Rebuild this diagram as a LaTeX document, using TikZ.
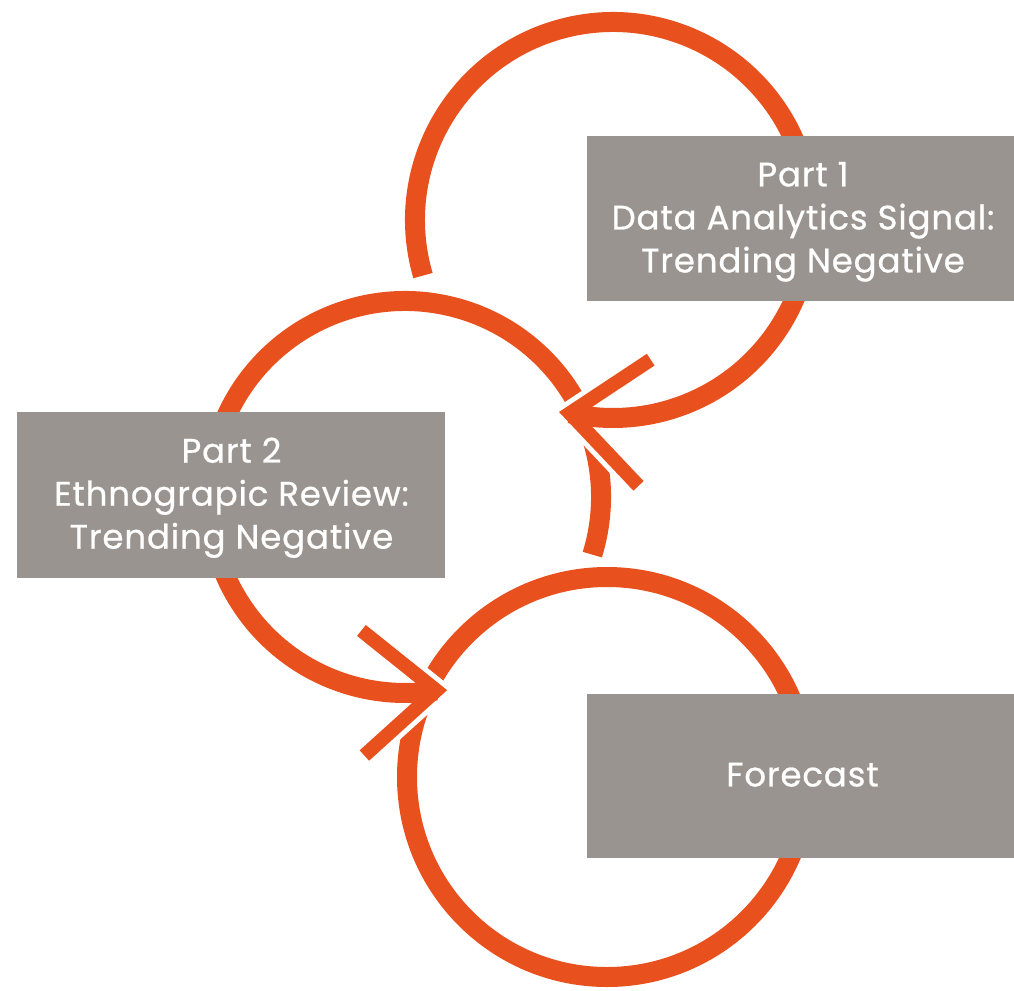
\documentclass[tikz,border=0pt]{standalone}
\usepackage{fontspec}
\setmainfont{Poppins}[LetterSpace=2.5, FakeBold=0.7]
\usetikzlibrary{calc}
\definecolor{ring}{HTML}{E8501E}
\definecolor{boxgrey}{HTML}{99948F}
\begin{document}
\begin{tikzpicture}[x=1pt,y=-1pt,
  ringline/.style={draw=ring, line width=20pt},
  armline/.style={draw=ring, line width=14pt, line join=miter, miter limit=10},
  halo/.style={draw=white, line width=24pt, line join=miter, miter limit=10},
  greybox/.style={fill=boxgrey, draw=none, inner sep=0pt, anchor=north west},
  boxtext/.style={text=white, font=\fontsize{34}{43}\selectfont, align=center, inner sep=0pt}]
\useasboundingbox (0,0) rectangle (1014,990);
% ring centres
\coordinate (c1) at (613,220);
\coordinate (c2) at (405,497);
\coordinate (c3) at (607,777);
% ring starts and arrow tips
\coordinate (s1) at ($(c1)+(163.7:198)$);
\coordinate (s2) at ($(c2)+(17.1:196)$);
\coordinate (t1) at ($(c1)+(102.6:198)$);
\coordinate (t2) at ($(c2)+(80.8:196)$);
\coordinate (t1u) at ($(t1)+(-33.5:97)$);
\coordinate (t1d) at ($(t1)+(46.6:100)$);
\coordinate (t2u) at ($(t2)+(-141.3:96)$);
\coordinate (t2d) at ($(t2)+(137.9:97)$);
% ring 3 (closed)
\draw[ringline] (c3) circle[radius=200];
% ring 2 with its arrow into ring 3
\draw[halo] (t2u) -- (t2) -- (t2d);
\draw[ringline] (s2) arc[start angle=17.1, end angle=-279.2, radius=196];
\draw[armline] (t2u) -- (t2) -- (t2d);
% ring 1 with its arrow into ring 2
\draw[halo] (t1u) -- (t1) -- (t1d);
\draw[ringline] (s1) arc[start angle=163.7, end angle=462.6, radius=198];
\draw[armline] (t1u) -- (t1) -- (t1d);
% boxes
\node[greybox, minimum width=427pt, minimum height=165pt] (b1) at (587,136) {};
\node[greybox, minimum width=428pt, minimum height=166pt] (b2) at (17,412) {};
\node[greybox, minimum width=427pt, minimum height=164pt] (b3) at (587,694) {};
\node[boxtext] (b1t) at (803,221.75) {Part 1\\Data Analytics Signal:\\Trending Negative};
\node[boxtext] (b2t) at (231.5,497.75) {Part 2\\Ethnograpic Review:\\Trending Negative};
\node[boxtext] (b3t) at (802.5,774.75) {Forecast};
\end{tikzpicture}
\end{document}
